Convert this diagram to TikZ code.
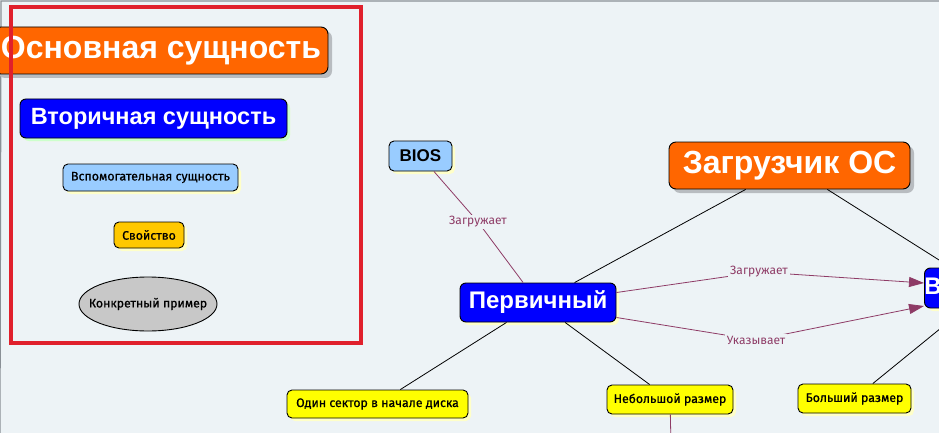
\documentclass[tikz,border=0pt]{standalone}
\usepackage{fontspec}
\setmainfont{Liberation Sans}
\newfontfamily\smallf{Fira Sans}[FakeBold=0.8]
\newfontfamily\lblf{Fira Sans}
\usetikzlibrary{arrows.meta,shadows,shapes.geometric}
\definecolor{bg}{HTML}{EDF3F6}
\definecolor{frame}{HTML}{8A9096}
\definecolor{mainorange}{HTML}{FF6600}
\definecolor{mainblue}{HTML}{0000FF}
\definecolor{auxblue}{HTML}{99CCFF}
\definecolor{propgold}{HTML}{FFC800}
\definecolor{propyellow}{HTML}{FFFF00}
\definecolor{exgrey}{HTML}{C8C8C8}
\definecolor{linkpurple}{HTML}{8E3B66}
\definecolor{legendred}{HTML}{E0202C}
\definecolor{shgrey}{HTML}{B8BCC0}
\definecolor{shyellow}{HTML}{FFFFC8}
\definecolor{shgreen}{HTML}{CCFFCC}
\tikzset{
  box/.style={draw=black, line width=0.9pt, rounded corners=5pt, inner sep=0pt, align=center},
  mainbox/.style={box, fill=mainorange, text=white, font=\bfseries, rounded corners=7pt,
    drop shadow={shadow xshift=4pt, shadow yshift=-4pt, fill=shgrey, opacity=1}},
  secbox/.style={box, fill=mainblue, text=white, font=\bfseries, rounded corners=6pt,
    drop shadow={shadow xshift=3pt, shadow yshift=-3pt, fill=shyellow, opacity=1}},
  auxbox/.style={box, fill=auxblue, text=black,
    drop shadow={shadow xshift=3pt, shadow yshift=-3pt, fill=shyellow, opacity=1}},
  propbox/.style={box, fill=propyellow, text=black, font=\smallf\fontsize{12.3}{14}\selectfont,
    drop shadow={shadow xshift=3pt, shadow yshift=-3pt, fill=shyellow, opacity=1}},
  exnode/.style={ellipse, draw=black, line width=0.9pt, fill=exgrey, inner xsep=-10.5pt, inner ysep=0pt},
  plain/.style={draw=black, line width=0.8pt},
  link/.style={draw=linkpurple, line width=0.8pt},
  linkarrow/.style={link, -{Triangle[length=15pt,width=10pt]}},
  lbl/.style={fill=bg, text=linkpurple, inner sep=2pt, font=\lblf\fontsize{12}{13}\selectfont},
}
\begin{document}
\begin{tikzpicture}[x=1pt,y=-1pt]
\useasboundingbox (0,0) rectangle (939,433);
\fill[bg] (0,0) rectangle (939,433);
\draw[frame, line width=1.2pt] (0,433) -- (1,1) -- (939,1);

% legend
\node[mainbox, minimum width=334pt, minimum height=47pt, font=\bfseries\fontsize{32}{34}\selectfont] (legmain) at (161,50.5) {Основная сущность};
\node[secbox, minimum width=267pt, minimum height=39pt, font=\bfseries\fontsize{23.5}{25}\selectfont,
  drop shadow={shadow xshift=3pt, shadow yshift=-3pt, fill=shgreen, opacity=1}] (legsec) at (153.5,118.5) {Вторичная сущность};
\node[auxbox, minimum width=175pt, minimum height=27pt, font=\smallf\fontsize{12.4}{14}\selectfont] (legaux) at (150.5,177.5) {Вспомогательная сущность};
\node[propbox, fill=propgold, minimum width=70pt, minimum height=26pt] (legprop) at (149,235) {Свойство};
\node[exnode, minimum width=138pt, minimum height=54pt, font=\smallf\fontsize{12.3}{14}\selectfont] (legex) at (148,304) {Конкретный пример};

% diagram nodes
\node[auxbox, minimum width=63pt, minimum height=30pt, font=\bfseries\fontsize{17}{19}\selectfont] (bios) at (420.5,156) {BIOS};
\node[mainbox, minimum width=241pt, minimum height=47pt, font=\bfseries\fontsize{32}{34}\selectfont] (loader) at (789.5,165.5) {Загрузчик ОС};
\node[secbox, minimum width=156pt, minimum height=39pt, font=\bfseries\fontsize{24}{26}\selectfont] (prim) at (538,302.5) {Первичный};
\node[secbox, minimum width=130pt, minimum height=40pt, font=\bfseries\fontsize{24}{26}\selectfont, anchor=west] (secnd) at (924,288) {Вторичный};
\node[propbox, minimum width=181pt, minimum height=28pt] (sector) at (377.5,404) {Один сектор в начале диска};
\node[propbox, minimum width=126pt, minimum height=29pt] (small) at (670,399.5) {Небольшой размер};
\node[propbox, minimum width=113pt, minimum height=29pt] (big) at (854.5,398.5) {Больший размер};
\coordinate (below) at (671,445);

% connectors
\path[plain] (loader) edge (prim)
  (loader) edge ([xshift=27pt]secnd.north west)
  (big) edge ([xshift=41pt]secnd.south west)
  (prim) edge (sector)
  (prim) edge (small);
\draw[link] (small) -- (below);

\coordinate (l0) at (478,222);
\coordinate (l1) at (759,272);
\coordinate (l2) at (756,340);
\draw[link] (bios) -- (l0) -- (prim);
\draw[linkarrow] ([yshift=10pt]prim.east) -- (l1) -- ([yshift=5pt]secnd.west);
\draw[linkarrow] ([yshift=-15pt]prim.east) -- (l2) -- ([yshift=-18pt]secnd.west);
\node[lbl] (t0) at (l0) {Загружает};
\node[lbl] (t1) at (l1) {Загружает};
\node[lbl] (t2) at (l2) {Указывает};

% legend frame
\draw[legendred, line width=4pt] (11.3,6.7) rectangle (360.7,342.7);
\end{tikzpicture}
\end{document}
